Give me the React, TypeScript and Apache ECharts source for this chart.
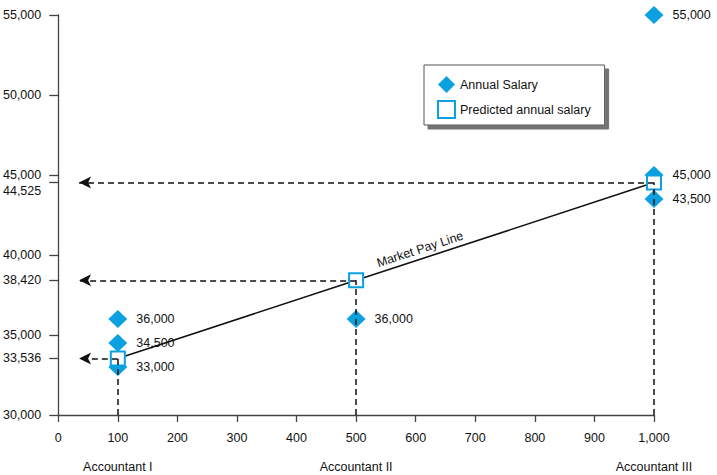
import React, { useEffect, useRef } from "react";
import * as echarts from "echarts";

// ---- data ----
const jobPoints = [100, 500, 1000];
const jobTitles = ["Accountant I", "Accountant II", "Accountant III"];
const annualSalaries = [
  [36000, 34500, 33000],
  [36000],
  [55000, 45000, 43500],
];
const predictedSalaries = [33536, 38420, 44525];
const yTickValues = [30000, 33536, 35000, 38420, 40000, 44525, 45000, 50000, 55000];
const xMin = 0;
const xMax = 1000;
const yMin = 30000;
const yMax = 55000;
const arrowEndX = 35;

const FONT = "'Liberation Sans', Arial, Helvetica, sans-serif";
const BLUE = "#0ba1e0";
const AXIS = "#444";
const TEXT = "#111";

const fmt = (v: number) => Number(v).toLocaleString("en-US");

export default function App() {
  const ref = useRef<HTMLDivElement>(null);

  useEffect(() => {
    if (!ref.current) return;
    const chart = echarts.init(ref.current, null, { renderer: "svg" });

    const salaryData: number[][] = [];
    jobPoints.forEach((x, i) => {
      annualSalaries[i].forEach((s) => salaryData.push([x, s]));
    });
    const predictedData = jobPoints.map((x, i) => [x, predictedSalaries[i]]);

    const dashed = { type: [6, 4] as any, color: "#111", width: 1.5 };
    const markData: any[] = [];
    jobPoints.forEach((x, i) => {
      const p = predictedSalaries[i];
      markData.push([
        { coord: [x, yMin], symbol: "none" },
        { coord: [x, p], symbol: "none" },
      ]);
      markData.push([
        { coord: [x, p], symbol: "none" },
        { coord: [arrowEndX, p], symbol: "arrow", symbolSize: [9, 12] },
      ]);
    });
    markData.push([
      {
        coord: predictedData[0],
        symbol: "none",
        lineStyle: { color: "rgba(0,0,0,0)", width: 0, type: "solid" },
        label: {
          show: true,
          formatter: "Market Pay Line",
          position: "insideMiddleTop",
          color: TEXT,
          fontSize: 12.5,
          fontFamily: FONT,
          distance: 3,
          padding: [0, 0, 0, 78],
        },
      },
      { coord: predictedData[predictedData.length - 1], symbol: "none" },
    ]);

    const option: any = {
      animation: false,
      textStyle: { fontFamily: FONT },
      grid: { left: 57, right: 63, top: 15, bottom: 60, containLabel: false },
      legend: {
        data: ["Annual Salary", "Predicted annual salary"],
        orient: "vertical",
        left: 424,
        top: 65,
        padding: [11, 14, 6, 13],
        itemGap: 7,
        itemWidth: 17,
        itemHeight: 17,
        backgroundColor: "#fff",
        borderColor: "#555",
        borderWidth: 1,
        borderRadius: 0,
        shadowColor: "rgba(0,0,0,0.55)",
        shadowBlur: 1,
        shadowOffsetX: 4,
        shadowOffsetY: 4,
        textStyle: { color: TEXT, fontSize: 12.5, fontFamily: FONT },
      },
      xAxis: [
        {
          type: "value",
          min: xMin,
          max: xMax,
          interval: 100,
          axisLine: { show: true, onZero: false, lineStyle: { color: AXIS, width: 1.3 } },
          axisTick: { show: true, length: 7, lineStyle: { color: AXIS, width: 1.3 } },
          splitLine: { show: false },
          axisLabel: {
            margin: 16,
            color: TEXT,
            fontSize: 12.5,
            fontFamily: FONT,
            formatter: (v: number) => fmt(v),
          },
        },
        {
          type: "value",
          min: xMin,
          max: xMax,
          position: "bottom",
          axisLine: { show: false },
          axisTick: { show: false },
          splitLine: { show: false },
          axisLabel: {
            customValues: jobPoints,
            showMinLabel: true,
            showMaxLabel: true,
            margin: 45,
            color: TEXT,
            fontSize: 12.5,
            fontFamily: FONT,
            formatter: (v: number) => {
              const i = jobPoints.indexOf(v);
              const t = i >= 0 ? jobTitles[i] : "";
              return i === 0 ? `{up|${t}}` : t;
            },
            rich: {
              up: { padding: [0, 0, 8, 0], color: TEXT, fontSize: 12.5, fontFamily: FONT },
            },
          },
        },
      ],
      yAxis: {
        type: "value",
        min: yMin,
        max: yMax,
        axisLine: { show: true, onZero: false, lineStyle: { color: AXIS, width: 1.3 } },
        axisTick: {
          show: true,
          length: 9,
          customValues: yTickValues,
          lineStyle: { color: AXIS, width: 1.3 },
        },
        splitLine: { show: false },
        axisLabel: {
          customValues: yTickValues,
          margin: 17,
          color: TEXT,
          fontSize: 12.5,
          fontFamily: FONT,
          formatter: (v: number) => (v === 44525 ? `{lo|${fmt(v)}}` : fmt(v)),
          rich: {
            lo: { padding: [16, 0, 0, 0], color: TEXT, fontSize: 12.5, fontFamily: FONT },
          },
        },
      },
      series: [
        {
          name: "Market Pay Line",
          type: "line",
          data: predictedData,
          symbol: "none",
          silent: true,
          z: 1,
          lineStyle: { color: "#111", width: 1.6 },
          markLine: {
            silent: true,
            symbol: ["none", "none"],
            lineStyle: dashed,
            label: { show: false },
            data: markData,
          },
        },
        {
          name: "Annual Salary",
          type: "scatter",
          data: salaryData,
          symbol: "diamond",
          symbolSize: [19, 18],
          z: 3,
          itemStyle: { color: BLUE, opacity: 1 },
          label: {
            show: true,
            position: "right",
            distance: 9,
            color: TEXT,
            opacity: 1,
            fontSize: 12.5,
            fontFamily: FONT,
            formatter: (p: any) => fmt(p.value[1]),
          },
        },
        {
          name: "Predicted annual salary",
          type: "scatter",
          data: predictedData,
          symbol: "rect",
          symbolSize: 14,
          z: 4,
          itemStyle: { color: "#fff", borderColor: BLUE, borderWidth: 2, opacity: 1 },
        },
      ],
    };

    chart.setOption(option);
    return () => chart.dispose();
  }, []);

  return <div ref={ref} style={{ width: 717, height: 475, position: "absolute", left: 0, top: 0, background: "#fff" }} />;
}
